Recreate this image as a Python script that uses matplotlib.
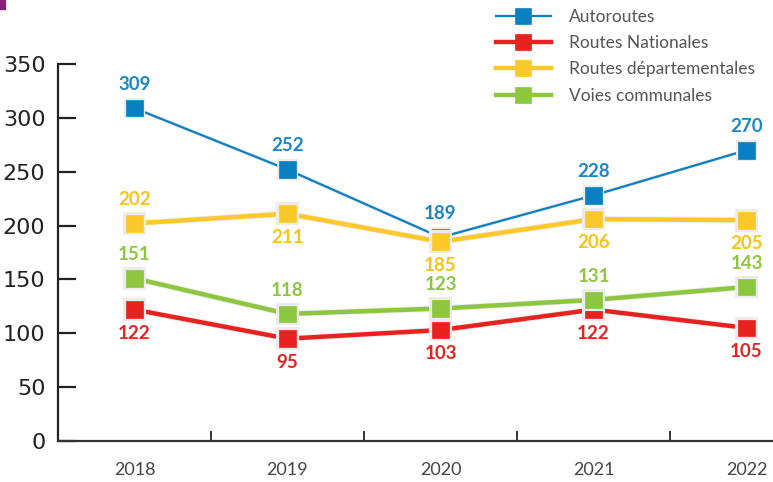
import matplotlib
matplotlib.use('Agg')
import matplotlib.pyplot as plt
import matplotlib.patheffects as pe
from matplotlib.patches import Rectangle

years = ['2018', '2019', '2020', '2021', '2022']
autoroutes = [309, 252, 189, 228, 270]
nationales = [122, 95, 103, 122, 105]
departementales = [202, 211, 185, 206, 205]
communales = [151, 118, 123, 131, 143]

names = ['Autoroutes', 'Routes Nationales', 'Routes départementales', 'Voies communales']
series = [autoroutes, nationales, departementales, communales]
colors = ['#0a7fc2', '#e8231f', '#fdc92a', '#8dc63f']
text_colors = ['#1a86c8', '#e5231f', '#f9c31a', '#8dc63f']
widths = [1.6, 3.2, 3.2, 3.2]
zorders = [3, 4, 5, 6]
# label side for each point: 1 above, -1 below
sides = [
    [1, 1, 1, 1, 1],
    [-1, -1, -1, -1, -1],
    [1, -1, -1, -1, -1],
    [1, 1, 1, 1, 1],
]

fig = plt.figure(figsize=(7.73, 4.82), dpi=100)
W, H = 773, 482
ax = fig.add_axes([58 / W, 41 / H, (W - 58) / W, 377 / H])
fig.patches.append(Rectangle((0, 1 - 9 / H), 5 / W, 9 / H, transform=fig.transFigure,
                             color='#8a1f7d', zorder=10))

x = list(range(len(years)))
handles = []
for vals, name, c, tc, lw, z, sd in zip(series, names, colors, text_colors, widths, zorders, sides):
    h, = ax.plot(x, vals, color=c, lw=lw, marker='s', ms=12, mec=c, mew=0.5,
                 label=name, zorder=z, clip_on=False,
                 path_effects=[pe.Stroke(linewidth=lw + 1.2, foreground='#ececec'), pe.Normal()])
    handles.append(h)
    for xi, v, s in zip(x, vals, sd):
        ax.annotate(str(v), (xi, v), xytext=(0, 17 * s), textcoords='offset points',
                    ha='center', va='center', color=tc, fontsize=13.5, fontweight='bold',
                    family=['Lato', 'DejaVu Sans'], zorder=z + 10)

ax.set_ylim(0, 350)
ax.set_xlim(-0.5, (W - 58) / 153 - 0.5)
ax.set_yticks(range(0, 351, 50))
ax.set_xticks(x)
ax.set_xticklabels(years)
ax.set_xticks([0.5, 1.5, 2.5, 3.5], minor=True)

for s in ['top', 'right']:
    ax.spines[s].set_visible(False)
ax.spines['left'].set_color('#222222')
ax.spines['bottom'].set_color('#333333')
ax.spines['left'].set_linewidth(1.6)
ax.spines['bottom'].set_linewidth(1.6)

ax.tick_params(axis='y', direction='in', length=13, width=1.6, color='#222222', pad=9,
               labelsize=16, labelcolor='#222222')
ax.tick_params(axis='x', which='major', length=0, pad=15, labelsize=13, labelcolor='#444444')
for lab in ax.get_xticklabels():
    lab.set_family(['Lato', 'DejaVu Sans'])
ax.tick_params(axis='x', which='minor', direction='in', length=7, width=1.4, color='#333333')

leg = fig.legend(handles=handles, loc='upper left', bbox_to_anchor=(480 / W, 1 + 7 / H),
                 frameon=False, handlelength=3.2, handletextpad=1.0, labelspacing=0.6,
                 prop={'family': ['Lato', 'DejaVu Sans'], 'size': 12.5})
for t in leg.get_texts():
    t.set_color('#555555')
for lh in leg.legend_handles:
    lh.set_markersize(11)
    lh.set_path_effects([])

fig.savefig('out.png', dpi=100)
